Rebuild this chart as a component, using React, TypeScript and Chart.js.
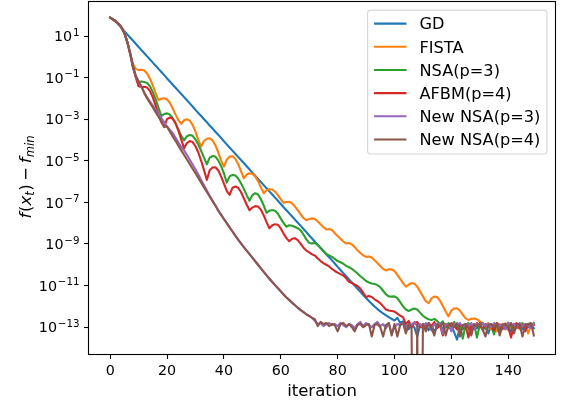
import React, { useEffect, useRef } from "react";
import { Chart, registerables } from "chart.js";

Chart.register(...registerables);

const FONT = "'DejaVu Sans', 'Liberation Sans', sans-serif";

// iteration index (x axis)
const iterations: number[] = Array.from({ length: 150 }, (_, i) => i);
const xTicks = [0, 20, 40, 60, 80, 100, 120, 140];
const yTickExponents = [1, -1, -3, -5, -7, -9, -11, -13];
const yAxisExpRange = [-14.29, 2.635];
const xAxisRange = [-7.45, 156.45];

const seriesNames = ["GD", "FISTA", "NSA(p=3)", "AFBM(p=4)", "New NSA(p=3)", "New NSA(p=4)"];
const seriesColors = ["#1f77b4", "#ff7f0e", "#2ca02c", "#d62728", "#9467bd", "#8c564b"];

// log10 of f(x_t) - f_min (one value per iteration 0..149)
const gdLog10 = [
  1.88, 1.79, 1.68, 1.54, 1.39, 1.23, 1.08, 0.93, 0.78, 0.63,
  0.47, 0.32, 0.17, 0.02, -0.13, -0.28, -0.43, -0.58, -0.73, -0.88,
  -1.04, -1.19, -1.34, -1.49, -1.64, -1.79, -1.94, -2.09, -2.24, -2.39,
  -2.55, -2.70, -2.85, -3.00, -3.15, -3.30, -3.45, -3.60, -3.75, -3.90,
  -4.06, -4.21, -4.36, -4.51, -4.66, -4.81, -4.96, -5.11, -5.26, -5.41,
  -5.57, -5.72, -5.87, -6.02, -6.17, -6.32, -6.47, -6.62, -6.77, -6.92,
  -7.08, -7.23, -7.38, -7.53, -7.68, -7.83, -7.98, -8.13, -8.28, -8.43,
  -8.59, -8.74, -8.89, -9.04, -9.19, -9.34, -9.49, -9.64, -9.79, -9.94,
  -10.10, -10.25, -10.40, -10.55, -10.70, -10.85, -11.00, -11.15, -11.30, -11.45,
  -11.60, -11.74, -11.88, -12.01, -12.13, -12.24, -12.34, -12.43, -12.52, -12.60,
  -12.68, -12.55, -12.80, -12.72, -12.95, -13.10, -12.88, -13.02, -13.45, -12.90,
  -13.05, -12.85, -13.15, -12.92, -13.20, -12.98, -12.86, -13.10, -12.95, -13.05,
  -12.90, -13.25, -13.60, -12.95, -13.10, -12.88, -13.00, -13.20, -12.92, -13.05,
  -12.85, -13.12, -12.95, -13.30, -12.90, -13.05, -12.88, -13.15, -12.95, -13.02,
  -12.90, -13.20, -12.92, -13.05, -12.85, -13.10, -12.95, -13.00, -12.90, -13.05,
];

const fistaLog10 = [
  1.88, 1.80, 1.70, 1.58, 1.40, 1.14, 0.72, 0.15, -0.35, -0.58,
  -0.64, -0.62, -0.66, -0.80, -1.05, -1.38, -1.75, -2.08, -2.02, -1.99,
  -2.05, -2.22, -2.48, -2.78, -3.05, -3.22, -3.05, -3.00, -3.07, -3.27,
  -3.60, -4.00, -4.32, -4.05, -3.94, -3.92, -4.02, -4.25, -4.60, -4.98,
  -5.28, -4.95, -4.80, -4.78, -4.90, -5.15, -5.50, -5.84, -5.66, -5.60,
  -5.62, -5.75, -5.98, -6.28, -6.56, -6.42, -6.37, -6.38, -6.48, -6.65,
  -6.85, -7.02, -6.98, -6.97, -7.05, -7.20, -7.38, -7.58, -7.75, -7.86,
  -7.80, -7.77, -7.80, -7.92, -8.05, -8.18, -8.30, -8.28, -8.33, -8.48,
  -8.62, -8.75, -8.88, -8.98, -8.95, -9.02, -9.15, -9.30, -9.43, -9.55,
  -9.62, -9.60, -9.65, -9.78, -9.92, -10.06, -10.20, -10.27, -10.22, -10.22,
  -10.30, -10.48, -10.68, -10.88, -11.05, -10.95, -10.88, -10.90, -11.05, -11.28,
  -11.52, -11.75, -11.85, -11.62, -11.53, -11.55, -11.72, -11.98, -12.25, -12.48,
  -12.20, -12.10, -12.09, -12.20, -12.40, -12.58, -12.65, -12.60, -12.58, -12.62,
  -12.72, -12.85, -12.95, -12.80, -13.10, -12.90, -13.20, -12.85, -13.00, -12.80,
  -13.15, -12.90, -13.05, -12.85, -13.10, -12.95, -12.85, -13.30, -12.90, -12.85,
];

const nsa3Log10 = [
  1.88, 1.80, 1.70, 1.58, 1.40, 1.14, 0.72, 0.18, -0.42, -0.90,
  -1.20, -1.19, -1.21, -1.26, -1.42, -1.70, -2.05, -2.45, -2.85, -2.75,
  -2.72, -2.78, -2.95, -3.20, -3.50, -3.80, -4.02, -3.82, -3.76, -3.80,
  -3.98, -4.22, -4.52, -4.85, -5.17, -4.85, -4.77, -4.80, -4.98, -5.25,
  -5.60, -6.05, -5.75, -5.68, -5.70, -5.85, -6.08, -6.35, -6.65, -6.92,
  -6.65, -6.56, -6.62, -6.85, -7.15, -7.50, -7.40, -7.37, -7.40, -7.55,
  -7.78, -8.00, -8.17, -8.10, -8.12, -8.18, -8.24, -8.35, -8.55, -8.78,
  -8.95, -8.97, -8.95, -9.05, -9.20, -9.35, -9.48, -9.55, -9.62, -9.72,
  -9.82, -9.88, -9.95, -10.05, -10.12, -10.20, -10.30, -10.42, -10.55, -10.66,
  -10.78, -10.85, -10.90, -10.92, -10.98, -11.08, -11.25, -11.42, -11.52, -11.53,
  -11.52, -11.60, -11.80, -12.00, -12.15, -12.22, -12.15, -12.10, -12.15, -12.30,
  -12.45, -12.55, -12.62, -12.66, -12.60, -12.70, -12.85, -12.72, -13.00, -12.80,
  -12.95, -12.75, -13.10, -12.88, -13.55, -12.90, -12.80, -13.05, -12.85, -13.50,
  -12.90, -12.78, -13.10, -12.85, -12.95, -13.35, -12.80, -13.00, -12.85, -13.10,
  -12.78, -12.95, -13.20, -12.85, -12.95, -12.80, -13.05, -12.85, -12.95, -12.80,
];

const afbm4Log10 = [
  1.88, 1.80, 1.70, 1.58, 1.40, 1.14, 0.72, 0.18, -0.45, -1.00,
  -1.42, -1.45, -1.44, -1.48, -1.65, -1.95, -2.35, -2.78, -3.15, -3.35,
  -3.00, -2.92, -2.98, -3.20, -3.55, -3.98, -4.40, -4.15, -4.05, -4.10,
  -4.30, -4.60, -5.00, -5.45, -5.92, -5.45, -5.32, -5.31, -5.45, -5.75,
  -6.10, -6.45, -6.64, -6.30, -6.24, -6.30, -6.50, -6.80, -7.10, -7.38,
  -7.25, -7.18, -7.20, -7.35, -7.62, -7.95, -8.25, -8.10, -8.05, -8.08,
  -8.25, -8.50, -8.72, -8.87, -8.75, -8.72, -8.82, -9.00, -9.18, -9.32,
  -9.40, -9.50, -9.55, -9.70, -9.82, -9.92, -10.00, -10.08, -10.20, -10.30,
  -10.38, -10.45, -10.52, -10.65, -10.82, -10.88, -10.95, -11.02, -11.15, -11.35,
  -11.55, -11.50, -11.55, -11.66, -11.75, -11.85, -12.00, -12.15, -12.20, -12.22,
  -12.25, -12.35, -12.45, -12.52, -12.85, -12.70, -13.00, -12.80, -12.75, -13.00,
  -12.85, -13.10, -12.80, -12.95, -12.75, -13.05, -12.90, -13.40, -12.85, -13.00,
  -12.80, -12.95, -13.10, -12.85, -13.00, -12.90, -13.50, -12.85, -13.05, -12.80,
  -12.95, -13.10, -12.85, -13.00, -12.90, -13.15, -12.80, -12.95, -13.10, -12.85,
  -13.00, -13.50, -12.90, -12.80, -13.05, -12.90, -13.20, -12.85, -13.00, -12.90,
];

const newNsa3Log10 = [
  1.88, 1.80, 1.70, 1.58, 1.40, 1.14, 0.72, 0.18, -0.50, -0.95,
  -1.20, -1.45, -1.72, -1.95, -2.15, -2.35, -2.55, -2.75, -2.95, -3.15,
  -3.35, -3.52, -3.66, -3.90, -4.12, -4.33, -4.50, -4.72, -4.95, -5.18,
  -5.42, -5.66, -5.92, -6.18, -6.43, -6.68, -6.92, -7.15, -7.38, -7.59,
  -7.80, -8.00, -8.20, -8.40, -8.60, -8.79, -8.97, -9.15, -9.32, -9.49,
  -9.66, -9.83, -10.00, -10.17, -10.34, -10.51, -10.67, -10.83, -10.98, -11.13,
  -11.28, -11.43, -11.57, -11.70, -11.83, -11.95, -12.07, -12.18, -12.28, -12.38,
  -12.45, -12.55, -12.70, -12.85, -12.80, -12.95, -12.85, -12.80, -12.90, -12.85,
  -12.95, -12.80, -12.90, -13.00, -12.85, -12.90, -13.05, -12.85, -12.75, -12.95,
  -12.80, -12.90, -13.00, -12.85, -12.75, -12.95, -12.85, -13.05, -12.80, -13.30,
  -13.00, -12.85, -12.90, -12.80, -13.10, -12.85, -12.90, -12.75, -12.95, -12.85,
  -13.00, -12.80, -12.90, -13.15, -12.85, -12.95, -12.80, -13.30, -12.85, -12.90,
  -13.20, -12.85, -12.90, -12.80, -13.00, -12.85, -12.95, -12.80, -13.10, -12.85,
  -12.90, -12.80, -12.95, -12.85, -13.00, -12.80, -12.90, -12.95, -12.85, -13.10,
  -12.80, -12.90, -12.85, -13.00, -12.80, -12.95, -12.85, -12.90, -13.05, -12.85,
];

// -30 marks iterations where the value was zero (drawn clipped at the bottom axis)
const newNsa4Log10 = [
  1.88, 1.80, 1.70, 1.58, 1.40, 1.14, 0.72, 0.18, -0.50, -0.95,
  -1.20, -1.42, -1.75, -2.00, -2.22, -2.44, -2.66, -2.88, -3.10, -3.38,
  -3.35, -3.60, -3.83, -4.05, -4.28, -4.50, -4.72, -4.94, -5.16, -5.38,
  -5.60, -5.82, -6.05, -6.28, -6.50, -6.72, -6.94, -7.15, -7.40, -7.60,
  -7.80, -8.00, -8.20, -8.40, -8.60, -8.79, -8.97, -9.15, -9.32, -9.49,
  -9.66, -9.83, -10.00, -10.17, -10.34, -10.51, -10.67, -10.83, -10.98, -11.13,
  -11.28, -11.43, -11.57, -11.70, -11.83, -11.95, -12.07, -12.18, -12.28, -12.38,
  -12.47, -12.55, -12.62, -12.95, -12.75, -12.85, -12.80, -12.95, -12.85, -12.90,
  -13.20, -12.85, -12.80, -12.95, -12.85, -13.00, -13.20, -12.90, -12.85, -13.00,
  -12.90, -12.85, -13.45, -12.90, -12.85, -13.00, -13.45, -12.90, -12.80, -13.40,
  -12.85, -13.45, -12.90, -12.80, -13.30, -12.85, -13.00, -30, -12.90, -30,
  -12.85, -13.20, -12.80, -13.05, -13.40, -12.85, -12.95, -12.80, -13.40, -12.90,
  -12.85, -13.00, -12.80, -13.45, -12.90, -12.85, -13.05, -13.40, -12.85, -12.95,
  -12.80, -13.10, -13.45, -12.90, -12.85, -13.00, -12.80, -13.40, -12.90, -12.85,
  -13.05, -12.80, -13.30, -12.90, -12.85, -13.45, -12.90, -12.85, -12.80, -13.40,
];

const seriesLog10 = [gdLog10, fistaLog10, nsa3Log10, afbm4Log10, newNsa3Log10, newNsa4Log10];

const TICK_FS = 14.3;
const LABEL_FS = 16.5;
const LEGEND_FS = 16.2;

const framePlugin = {
  id: "mplFrame",
  afterDraw(chart: any) {
    const { ctx, chartArea } = chart;
    ctx.save();
    ctx.strokeStyle = "#000";
    ctx.lineWidth = 1.1;
    ctx.strokeRect(
      Math.round(chartArea.left) - 0.5,
      Math.round(chartArea.top) - 0.5,
      Math.round(chartArea.right - chartArea.left) + 1,
      Math.round(chartArea.bottom - chartArea.top) + 1
    );
    ctx.restore();
  },
};

// y tick labels drawn as 10 with a raised, smaller exponent (like mathtext)
const yTickLabelPlugin = {
  id: "mplYTickLabels",
  afterDraw(chart: any) {
    const { ctx, chartArea } = chart;
    const yScale = chart.scales.y;
    const fs = TICK_FS;
    const es = fs * 0.72;
    const right = chartArea.left - 5 - 4.5;
    ctx.save();
    ctx.fillStyle = "#000";
    ctx.textBaseline = "alphabetic";
    ctx.textAlign = "left";
    yTickExponents.forEach((e) => {
      const y = yScale.getPixelForValue(Math.pow(10, e));
      const expText = (e < 0 ? "\u2212" : "") + String(Math.abs(e));
      ctx.font = `${fs}px ${FONT}`;
      const baseW = ctx.measureText("10").width;
      ctx.font = `${es}px ${FONT}`;
      const expW = ctx.measureText(expText).width;
      const gap = 0.8;
      const x0 = right - (baseW + gap + expW);
      const baseY = y + 0.36 * fs;
      ctx.font = `${fs}px ${FONT}`;
      ctx.fillText("10", x0, baseY);
      ctx.font = `${es}px ${FONT}`;
      ctx.fillText(expText, x0 + baseW + gap, baseY - 0.38 * fs);
    });
    ctx.restore();
  },
};

const yLabelPlugin = {
  id: "mplYLabel",
  afterDraw(chart: any) {
    const { ctx, chartArea } = chart;
    const fs = LABEL_FS;
    const sub = fs * 0.7;
    const it = (s: number) => `italic ${s}px ${FONT}`;
    const up = (s: number) => `${s}px ${FONT}`;
    const pieces = [
      { t: "f", font: it(fs), dy: 0, after: 0.05 * fs },
      { t: "(", font: up(fs), dy: 0, after: 0 },
      { t: "x", font: it(fs), dy: 0, after: 0 },
      { t: "t", font: it(sub), dy: 0.2 * fs, after: 0.02 * fs },
      { t: ")", font: up(fs), dy: 0, after: 0.22 * fs },
      { t: "\u2212", font: up(fs), dy: 0, after: 0.22 * fs },
      { t: "f", font: it(fs), dy: 0, after: 0.02 * fs },
      { t: "min", font: it(sub), dy: 0.2 * fs, after: 0 },
    ];
    ctx.save();
    let total = 0;
    const widths = pieces.map((p) => {
      ctx.font = p.font;
      const w = ctx.measureText(p.t).width;
      total += w + p.after;
      return w;
    });
    const cy = (chartArea.top + chartArea.bottom) / 2 - 1;
    ctx.translate(31, cy);
    ctx.rotate(-Math.PI / 2);
    ctx.fillStyle = "#000";
    ctx.textBaseline = "alphabetic";
    ctx.textAlign = "left";
    let x = -total / 2;
    pieces.forEach((p, i) => {
      ctx.font = p.font;
      ctx.fillText(p.t, x, p.dy);
      x += widths[i] + p.after;
    });
    ctx.restore();
  },
};

const legendPlugin = {
  id: "mplLegend",
  afterDraw(chart: any) {
    const { ctx, chartArea } = chart;
    const fs = LEGEND_FS;
    const pad = 0.4 * fs;
    const handleLen = 2 * fs;
    const handlePad = 0.8 * fs;
    const spacing = 0.5 * fs;
    const axPad = 0.5 * fs;
    const rowH = 0.93 * fs;
    ctx.save();
    ctx.font = `${fs}px ${FONT}`;
    const textW = Math.max(...seriesNames.map((n) => ctx.measureText(n).width));
    const w = pad + handleLen + handlePad + textW + pad;
    const h = 2 * pad + seriesNames.length * rowH + (seriesNames.length - 1) * spacing;
    const x0 = chartArea.right - axPad - w;
    const y0 = chartArea.top + axPad;
    const r = 0.2 * fs;
    ctx.beginPath();
    ctx.moveTo(x0 + r, y0);
    ctx.lineTo(x0 + w - r, y0);
    ctx.arcTo(x0 + w, y0, x0 + w, y0 + r, r);
    ctx.lineTo(x0 + w, y0 + h - r);
    ctx.arcTo(x0 + w, y0 + h, x0 + w - r, y0 + h, r);
    ctx.lineTo(x0 + r, y0 + h);
    ctx.arcTo(x0, y0 + h, x0, y0 + h - r, r);
    ctx.lineTo(x0, y0 + r);
    ctx.arcTo(x0, y0, x0 + r, y0, r);
    ctx.closePath();
    ctx.fillStyle = "rgba(255,255,255,0.8)";
    ctx.fill();
    ctx.strokeStyle = "rgba(204,204,204,0.8)";
    ctx.lineWidth = 1.1;
    ctx.stroke();
    seriesNames.forEach((name, i) => {
      const cy = y0 + pad + rowH / 2 + i * (rowH + spacing) - 0.5;
      ctx.strokeStyle = seriesColors[i];
      ctx.lineWidth = 2.1;
      ctx.lineCap = "butt";
      ctx.beginPath();
      ctx.moveTo(x0 + pad, cy);
      ctx.lineTo(x0 + pad + handleLen, cy);
      ctx.stroke();
      ctx.fillStyle = "#000";
      ctx.textBaseline = "alphabetic";
      ctx.textAlign = "left";
      ctx.fillText(name, x0 + pad + handleLen + handlePad, cy + 0.36 * fs);
    });
    ctx.restore();
  },
};

export default function App() {
  const canvasRef = useRef<HTMLCanvasElement | null>(null);

  useEffect(() => {
    const canvas = canvasRef.current;
    if (!canvas) return;
    const datasets = seriesLog10.map((vals, k) => ({
      label: seriesNames[k],
      data: vals.map((L, i) => ({ x: iterations[i], y: Math.pow(10, L) })),
      borderColor: seriesColors[k],
      backgroundColor: seriesColors[k],
      borderWidth: 2.1,
      pointRadius: 0,
      pointHoverRadius: 0,
      tension: 0,
      fill: false,
      borderCapStyle: "square" as const,
      borderJoinStyle: "round" as const,
      order: seriesNames.length - k,
    }));

    const chart = new Chart(canvas, {
      type: "line",
      data: { datasets },
      options: {
        animation: false,
        responsive: false,
        devicePixelRatio: 1,
        events: [],
        layout: { padding: { top: 2, right: 6, bottom: 0, left: 0 } },
        plugins: {
          legend: { display: false },
          tooltip: { enabled: false },
          title: { display: false },
        },
        scales: {
          x: {
            type: "linear",
            min: xAxisRange[0],
            max: xAxisRange[1],
            afterBuildTicks: (axis: any) => {
              axis.ticks = xTicks.map((v) => ({ value: v }));
            },
            afterFit: (scale: any) => {
              scale.height = 52;
              scale.paddingLeft = 0;
              scale.paddingRight = 0;
            },
            ticks: {
              autoSkip: false,
              maxRotation: 0,
              minRotation: 0,
              padding: 4,
              color: "#000",
              font: { family: FONT, size: TICK_FS },
              callback: (v: any) => String(v),
            },
            grid: {
              display: true,
              drawOnChartArea: false,
              drawTicks: true,
              tickLength: 5,
              tickWidth: 1.1,
              tickColor: "#000",
            },
            border: { display: false },
            title: {
              display: true,
              text: "iteration",
              color: "#000",
              font: { family: FONT, size: LABEL_FS },
              padding: { top: 0, bottom: 4 },
            },
          },
          y: {
            type: "logarithmic",
            min: Math.pow(10, yAxisExpRange[0]),
            max: Math.pow(10, yAxisExpRange[1]),
            afterBuildTicks: (axis: any) => {
              axis.ticks = yTickExponents.map((e) => ({ value: Math.pow(10, e) }));
            },
            afterFit: (scale: any) => {
              scale.width = 89;
              scale.paddingTop = 0;
              scale.paddingBottom = 0;
            },
            ticks: { display: false, autoSkip: false },
            grid: {
              display: true,
              drawOnChartArea: false,
              drawTicks: true,
              tickLength: 5,
              tickWidth: 1.1,
              tickColor: "#000",
            },
            border: { display: false },
            title: { display: false },
          },
        },
      },
      plugins: [framePlugin, yTickLabelPlugin, yLabelPlugin, legendPlugin],
    });
    return () => chart.destroy();
  }, []);

  return (
    <div style={{ position: "fixed", left: 0, top: 0, width: 561, height: 406, background: "#fff" }}>
      <canvas ref={canvasRef} width={561} height={406} style={{ display: "block", width: 561, height: 406 }} />
    </div>
  );
}
